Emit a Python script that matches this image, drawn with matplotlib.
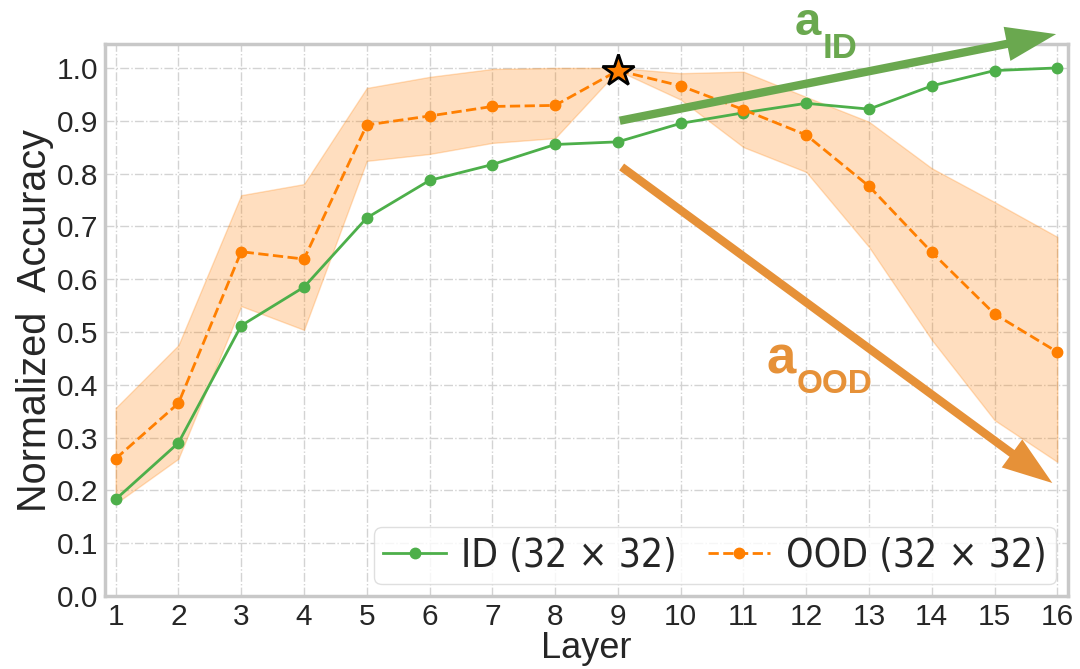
import numpy as np
import matplotlib
matplotlib.use('Agg')
from matplotlib import pyplot as plt

# data
layers = np.arange(1, 17)
id_acc = [0.183, 0.29, 0.512, 0.585, 0.716, 0.787, 0.817, 0.855,
          0.860, 0.895, 0.915, 0.933, 0.922, 0.966, 0.995, 1.0]
ood_acc = [0.26, 0.365, 0.652, 0.638, 0.892, 0.909, 0.927, 0.929,
           0.995, 0.966, 0.921, 0.873, 0.776, 0.651, 0.534, 0.462]
ood_low = [0.175, 0.26, 0.549, 0.504, 0.824, 0.837, 0.858, 0.867,
           0.995, 0.94, 0.85, 0.803, 0.661, 0.485, 0.333, 0.254]
ood_high = [0.356, 0.475, 0.759, 0.78, 0.962, 0.983, 0.998, 1.0,
            1.0, 0.99, 0.993, 0.945, 0.898, 0.81, 0.746, 0.68]
peak_layer = 9
peak_acc = 0.995

green = '#4daf4a'
orange = '#ff7f00'
arrow_green = '#6aa84f'
arrow_orange = '#e69138'

plt.rcParams['font.family'] = ['Liberation Sans', 'DejaVu Sans']

fig = plt.figure(figsize=(10.8, 6.69), dpi=100)
ax = fig.add_axes([0.0972, 0.1091, 0.8917, 0.8249])

ax.fill_between(layers, ood_low, ood_high, color=orange, alpha=0.25,
                edgecolor=orange, linewidth=1, zorder=2)
ax.plot(layers, id_acc, '-o', color=green, lw=2, ms=7.5,
        label='ID (32 × 32)', zorder=3)
ax.plot(layers, ood_acc, '--o', color=orange, lw=2, ms=7.5,
        label='OOD (32 × 32)', zorder=3)
ax.plot([peak_layer], [peak_acc], marker='*', ms=24, color=orange,
        mec='black', mew=2, zorder=5, clip_on=False)

# trend arrows
arr = dict(arrowstyle='simple,head_length=36,head_width=25,tail_width=6',
           lw=0, shrinkA=0, shrinkB=0, mutation_scale=1)
ax.annotate('', xy=(15.98, 1.064), xytext=(9.03, 0.90),
            arrowprops=dict(color=arrow_green, **arr),
            annotation_clip=False, zorder=6)
ax.annotate('', xy=(15.92, 0.214), xytext=(9.06, 0.8125),
            arrowprops=dict(color=arrow_orange, **arr),
            annotation_clip=False, zorder=6)

# arrow labels (figure pixel positions, baseline)
fig.text(795 / 1080, 1 - 35 / 669, 'a', color=arrow_green, fontsize=34,
         fontweight='bold', ha='left', va='baseline')
fig.text(823 / 1080, 1 - 58 / 669, 'ID', color=arrow_green, fontsize=25,
         fontweight='bold', ha='left', va='baseline')
fig.text(766 / 1080, 1 - 373 / 669, 'a', color=arrow_orange, fontsize=38,
         fontweight='bold', ha='left', va='baseline')
fig.text(797 / 1080, 1 - 393 / 669, 'OOD', color=arrow_orange, fontsize=24,
         fontweight='bold', ha='left', va='baseline')

ax.set_xlim(0.83, 16.17)
ax.set_ylim(0, 1.045)
ax.set_xticks(layers)
ax.set_yticks(np.arange(0, 1.01, 0.1))
ax.set_yticklabels(['%.1f' % v for v in np.arange(0, 1.01, 0.1)])
ax.tick_params(length=0, labelsize=21.5, labelcolor='#262626', pad=5)
ax.grid(True, color='#d3d3d3', linestyle='-.', lw=1)
ax.set_axisbelow(True)
for s in ax.spines.values():
    s.set_color('#c8c8c8')
    s.set_linewidth(2.5)

ax.set_xlabel('Layer', fontsize=26, color='#262626', labelpad=0)
ax.set_ylabel('Normalized  Accuracy', fontsize=28.5, color='#262626', labelpad=2)

leg = ax.legend(loc='lower right', ncol=2, frameon=True, fancybox=True,
                prop=dict(family='DejaVu Sans', stretch='condensed', size=28),
                handlelength=1.6, columnspacing=0.8, handletextpad=0.4,
                borderpad=0.25, borderaxespad=0.3)
leg.get_frame().set_edgecolor('#d8d8d8')
for t in leg.get_texts():
    t.set_color('#262626')

fig.savefig('out.png', dpi=100)
